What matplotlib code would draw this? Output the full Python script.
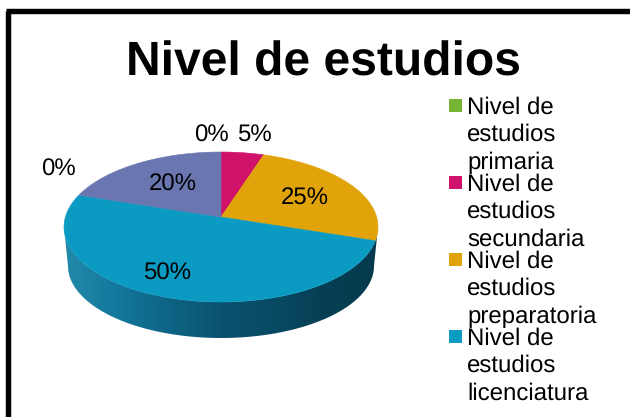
import numpy as np
import matplotlib
matplotlib.use('Agg')
import matplotlib.pyplot as plt
from matplotlib.patches import Polygon, Rectangle
from matplotlib.colors import LinearSegmentedColormap

plt.rcParams['font.family'] = ['Liberation Sans', 'DejaVu Sans']
plt.rcParams['text.hinting'] = 'no_hinting'
plt.rcParams['text.hinting_factor'] = 1

title = 'Nivel de estudios'
values = [0, 5, 25, 50, 0, 20]
slice_colors = ['#76b531', '#d0126b', '#e0a30a', '#0a9ac2', '#8a3f8f', '#6a76b0']
labels = ['0%', '5%', '25%', '50%', '0%', '20%']
label_x = [211, 254, 305, 167, 58, 173]
label_y = [136, 135, 199, 274, 170, 185]
legend_names = ['Nivel de\nestudios\nprimaria', 'Nivel de\nestudios\nsecundaria',
                'Nivel de\nestudios\npreparatoria', 'Nivel de\nestudios\nlicenciatura']
legend_colors = slice_colors[:4]

fig = plt.figure(figsize=(6.3, 4.17), dpi=100)
ax = fig.add_axes([0, 0, 1, 1])

# top of the pie seen in perspective, the centre sits above the ellipse centre
cx, cy, a, b, k = 221, 227, 157, 75, 0.133


def rim(theta):
    u, v = np.sin(theta), np.cos(theta)
    d = 1 + k * v
    return cx + a * u * np.sqrt(1 - k * k) / d, cy - b * (v + k) / d


# side wall, a gradient clipped to the ring below the top face
t = np.linspace(-np.pi / 2, np.pi / 2, 120)
top_x, top_y = cx + a * np.sin(t), cy + b * np.cos(t)
bot_x, bot_y = cx + 153 * np.sin(t), 266 + 72 * np.cos(t)
side = Polygon(np.r_[np.c_[top_x, top_y], np.c_[bot_x, bot_y][::-1]], closed=True, fc='none', ec='none')
ax.add_patch(side)
cmap = LinearSegmentedColormap.from_list('side', ['#2389aa', '#14789c', '#0d6484', '#0a5270', '#084a63', '#063f54', '#053a4c'])
im = ax.imshow(np.linspace(0, 1, 256)[None, :], extent=(64, 378, 345, 225), cmap=cmap, aspect='auto', zorder=1)
im.set_clip_path(side)

ax.set_xlim(0, 630)
ax.set_ylim(417, 0)
ax.axis('off')

# top face
total = sum(values)
start = 0
apex = (cx, cy - b * k)
for val, col in zip(values, slice_colors):
    if val > 0:
        th = np.linspace(start, start + val / total, 80) * 2 * np.pi
        x, y = rim(th)
        pts = np.r_[[apex], np.c_[x, y]]
        ax.add_patch(Polygon(pts, closed=True, fc=col, ec=col, lw=0.4, zorder=2))
    start += val / total

for lab, x, y in zip(labels, label_x, label_y):
    ax.text(x, y, lab, fontsize=17, ha='center', va='center', color='black', zorder=3)

ax.text(323, 63, title, fontsize=34.4, fontweight='bold', ha='center', va='center')

# legend
for i, (name, col) in enumerate(zip(legend_names, legend_colors)):
    top = 99 + i * 77
    ax.add_patch(Rectangle((449, top), 13, 13, fc=col, ec='none'))
    ax.text(467, top - 3, name, fontsize=17, ha='left', va='top', linespacing=1.3, color='black')

# frame, the bottom and right edges are cut off in the picture
ax.plot([7.5, 7.5], [417, 11], color='black', lw=3.9, solid_capstyle='butt')
ax.plot([5.5, 630], [11.2, 11.2], color='black', lw=3.9, solid_capstyle='butt')

fig.savefig('out.png', dpi=100)
